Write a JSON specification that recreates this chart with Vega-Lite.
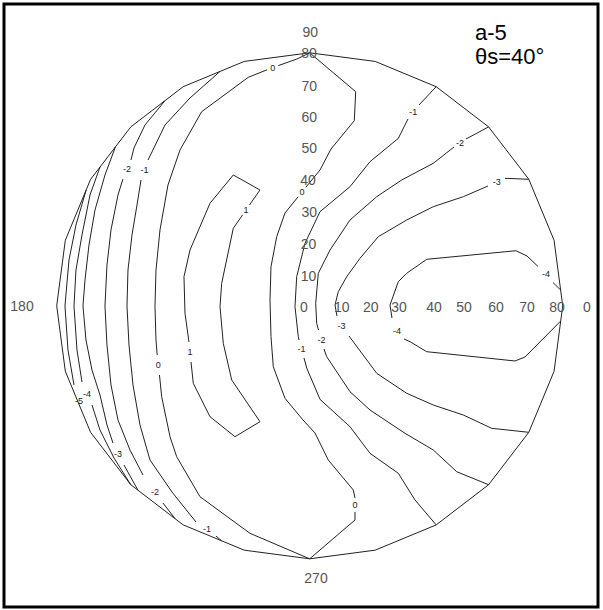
{
"$schema":"https://vega.github.io/schema/vega-lite/v6.json",
"width":594,"height":603,
"autosize":{"type":"none"},
"padding":{"left":4,"top":4,"right":5,"bottom":3},
"background":"white",
"config":{"view":{"stroke":"black","strokeWidth":3}},
"datasets":{
"boundary":[
{"i":0,"u":80,"v":0},{"i":1,"u":77.27,"v":20.71},{"i":2,"u":69.28,"v":40},{"i":3,"u":56.57,"v":56.57},{"i":4,"u":40,"v":69.28},{"i":5,"u":20.71,"v":77.27},{"i":6,"u":0,"v":80},{"i":7,"u":-20.71,"v":77.27},{"i":8,"u":-40,"v":69.28},{"i":9,"u":-56.57,"v":56.57},{"i":10,"u":-69.28,"v":40},{"i":11,"u":-77.27,"v":20.71},{"i":12,"u":-80,"v":0},{"i":13,"u":-77.27,"v":-20.71},{"i":14,"u":-69.28,"v":-40},{"i":15,"u":-56.57,"v":-56.57},{"i":16,"u":-40,"v":-69.28},{"i":17,"u":-20.71,"v":-77.27},{"i":18,"u":0,"v":-80},{"i":19,"u":20.71,"v":-77.27},{"i":20,"u":40,"v":-69.28},{"i":21,"u":56.57,"v":-56.57},{"i":22,"u":69.28,"v":-40},{"i":23,"u":77.27,"v":-20.71},{"i":24,"u":80,"v":0}],
"contours":[
{"s":"0R_a","i":0,"u":0,"v":80},{"s":"0R_a","i":1,"u":14.55,"v":67.7},{"s":"0R_a","i":2,"u":14.1,"v":58.53},{"s":"0R_a","i":3,"u":6.74,"v":49.58},{"s":"0R_a","i":4,"u":3.26,"v":42.94},{"s":"0R_a","i":5,"u":-1.23,"v":37.47},
{"s":"0R_b","i":0,"u":-3.64,"v":34.5},{"s":"0R_b","i":1,"u":-7.81,"v":29.34},{"s":"0R_b","i":2,"u":-10.43,"v":21.85},{"s":"0R_b","i":3,"u":-12.24,"v":12.36},{"s":"0R_b","i":4,"u":-12.55,"v":1.83},{"s":"0R_b","i":5,"u":-12.24,"v":-9.77},{"s":"0R_b","i":6,"u":-11.51,"v":-19.26},{"s":"0R_b","i":7,"u":-7.81,"v":-29.25},{"s":"0R_b","i":8,"u":-2.12,"v":-36.11},{"s":"0R_b","i":9,"u":1.68,"v":-40.22},{"s":"0R_b","i":10,"u":5.88,"v":-48.76},{"s":"0R_b","i":11,"u":13.79,"v":-58.25},{"s":"0R_b","i":12,"u":14.32,"v":-60.78},
{"s":"0R_c","i":0,"u":14.32,"v":-65.2},{"s":"0R_c","i":1,"u":14.32,"v":-67.73},{"s":"0R_c","i":2,"u":0,"v":-80},
{"s":"0L_a","i":0,"u":0,"v":80},{"s":"0L_a","i":1,"u":-4.02,"v":78.04},{"s":"0L_a","i":2,"u":-9.93,"v":75.95},
{"s":"0L_b","i":0,"u":-13.47,"v":74.63},{"s":"0L_b","i":1,"u":-19.42,"v":72.25},{"s":"0L_b","i":2,"u":-34.15,"v":61.38},{"s":"0L_b","i":3,"u":-41.01,"v":49.27},{"s":"0L_b","i":4,"u":-44.81,"v":38.2},{"s":"0L_b","i":5,"u":-47.34,"v":23.97},{"s":"0L_b","i":6,"u":-48.6,"v":11.32},{"s":"0L_b","i":7,"u":-48.92,"v":-0.06},{"s":"0L_b","i":8,"u":-48.6,"v":-10.81},{"s":"0L_b","i":9,"u":-48.22,"v":-15.56},
{"s":"0L_c","i":0,"u":-47.5,"v":-21.88},{"s":"0L_c","i":1,"u":-46.8,"v":-28.74},{"s":"0L_c","i":2,"u":-44.17,"v":-41.39},{"s":"0L_c","i":3,"u":-42.06,"v":-47.72},{"s":"0L_c","i":4,"u":-34.69,"v":-60.36},{"s":"0L_c","i":5,"u":-18.88,"v":-71.94},{"s":"0L_c","i":6,"u":0,"v":-80},
{"s":"m1R_a","i":0,"u":40,"v":69.28},{"s":"m1R_a","i":1,"u":34.56,"v":63.49},
{"s":"m1R_b","i":0,"u":31.08,"v":59.07},{"s":"m1R_b","i":1,"u":28.02,"v":52.96},{"s":"m1R_b","i":2,"u":19.07,"v":45.57},{"s":"m1R_b","i":3,"u":12.74,"v":37.66},{"s":"m1R_b","i":4,"u":3.26,"v":29.76},{"s":"m1R_b","i":5,"u":-1.49,"v":19.76},{"s":"m1R_b","i":6,"u":-4.11,"v":9.2},{"s":"m1R_b","i":7,"u":-4.65,"v":-0.28},{"s":"m1R_b","i":8,"u":-3.6,"v":-9.77},{"s":"m1R_b","i":9,"u":-3.38,"v":-10.81},
{"s":"m1R_c","i":0,"u":-1.8,"v":-16.51},{"s":"m1R_c","i":1,"u":-0.95,"v":-19.67},{"s":"m1R_c","i":2,"u":3.26,"v":-29.57},{"s":"m1R_c","i":3,"u":12.74,"v":-38.23},{"s":"m1R_c","i":4,"u":19.07,"v":-46.64},{"s":"m1R_c","i":5,"u":28.02,"v":-52.96},{"s":"m1R_c","i":6,"u":33.3,"v":-61.41},{"s":"m1R_c","i":7,"u":40,"v":-69.28},
{"s":"m2R_a","i":0,"u":56.57,"v":56.57},{"s":"m2R_a","i":1,"u":49.42,"v":52.74},
{"s":"m2R_b","i":0,"u":45.63,"v":50.21},{"s":"m2R_b","i":1,"u":39.08,"v":45.06},{"s":"m2R_b","i":2,"u":29.09,"v":39.78},{"s":"m2R_b","i":3,"u":21.19,"v":34.5},{"s":"m2R_b","i":4,"u":12.74,"v":27.13},{"s":"m2R_b","i":5,"u":6.42,"v":17.64},{"s":"m2R_b","i":6,"u":2.72,"v":10.28},{"s":"m2R_b","i":7,"u":1.9,"v":0.79},{"s":"m2R_b","i":8,"u":2.21,"v":-5.53},{"s":"m2R_b","i":9,"u":2.78,"v":-7.65},
{"s":"m2R_c","i":0,"u":4.52,"v":-13.66},{"s":"m2R_c","i":1,"u":5.38,"v":-16.1},{"s":"m2R_c","i":2,"u":12.74,"v":-27.16},{"s":"m2R_c","i":3,"u":19.07,"v":-32.95},{"s":"m2R_c","i":4,"u":30.14,"v":-40.32},{"s":"m2R_c","i":5,"u":39.08,"v":-45.6},{"s":"m2R_c","i":6,"u":46.48,"v":-52.46},{"s":"m2R_c","i":7,"u":56.57,"v":-56.57},
{"s":"m3R_a","i":0,"u":69.28,"v":40},{"s":"m3R_a","i":1,"u":61.76,"v":40.32},
{"s":"m3R_b","i":0,"u":56.38,"v":37.88},{"s":"m3R_b","i":1,"u":48.57,"v":34.5},{"s":"m3R_b","i":2,"u":39.08,"v":31.34},{"s":"m3R_b","i":3,"u":30.67,"v":27.13},{"s":"m3R_b","i":4,"u":21.69,"v":21.85},{"s":"m3R_b","i":5,"u":15.91,"v":15.02},{"s":"m3R_b","i":6,"u":11.7,"v":9.2},{"s":"m3R_b","i":7,"u":9.04,"v":4.46},{"s":"m3R_b","i":8,"u":8.0,"v":0.25},{"s":"m3R_b","i":9,"u":8.63,"v":-3.23},
{"s":"m3R_c","i":0,"u":12.43,"v":-9.55},{"s":"m3R_c","i":1,"u":21.19,"v":-21.34},{"s":"m3R_c","i":2,"u":30.67,"v":-27.67},{"s":"m3R_c","i":3,"u":39.08,"v":-31.37},{"s":"m3R_c","i":4,"u":48.57,"v":-34.53},{"s":"m3R_c","i":5,"u":57.55,"v":-38.74},{"s":"m3R_c","i":6,"u":69.28,"v":-40},
{"s":"m4R_a","i":0,"u":79.34,"v":5.0},{"s":"m4R_a","i":1,"u":76.93,"v":7.37},
{"s":"m4R_b","i":0,"u":72.19,"v":12.43},{"s":"m4R_b","i":1,"u":68.71,"v":15.75},{"s":"m4R_b","i":2,"u":65.23,"v":17.42},{"s":"m4R_b","i":3,"u":37.0,"v":14.7},{"s":"m4R_b","i":4,"u":30.67,"v":10.28},{"s":"m4R_b","i":5,"u":28.02,"v":7.62},{"s":"m4R_b","i":6,"u":25.39,"v":0.25},{"s":"m4R_b","i":7,"u":26.02,"v":-3.86},
{"s":"m4R_c","i":0,"u":29.82,"v":-10.5},{"s":"m4R_c","i":1,"u":31.72,"v":-11.35},{"s":"m4R_c","i":2,"u":37.0,"v":-14.51},{"s":"m4R_c","i":3,"u":64.92,"v":-17.45},{"s":"m4R_c","i":4,"u":68.08,"v":-16.19},{"s":"m4R_c","i":5,"u":79.37,"v":-4.81},
{"s":"b1_a","i":0,"u":-21.22,"v":28.74},{"s":"b1_a","i":1,"u":-24.16,"v":24.51},{"s":"b1_a","i":2,"u":-27.83,"v":7.11},{"s":"b1_a","i":3,"u":-28.36,"v":-0.28},{"s":"b1_a","i":4,"u":-27.32,"v":-11.86},{"s":"b1_a","i":5,"u":-24.66,"v":-23.46},{"s":"b1_a","i":6,"u":-15.72,"v":-36.65},{"s":"b1_a","i":7,"u":-23.62,"v":-41.39},{"s":"b1_a","i":8,"u":-31.53,"v":-35.07},{"s":"b1_a","i":9,"u":-36.81,"v":-24.51},{"s":"b1_a","i":10,"u":-37.53,"v":-17.77},
{"s":"b1_b","i":0,"u":-38.17,"v":-11.45},{"s":"b1_b","i":1,"u":-39.43,"v":-2.37},{"s":"b1_b","i":2,"u":-39.75,"v":9.2},{"s":"b1_b","i":3,"u":-37.85,"v":17.64},{"s":"b1_b","i":4,"u":-31.53,"v":32.41},{"s":"b1_b","i":5,"u":-24.16,"v":41.36},{"s":"b1_b","i":6,"u":-15.72,"v":36.62},{"s":"b1_b","i":7,"u":-19.07,"v":31.84},
{"s":"m1L_a","i":0,"u":-28.36,"v":74.1},{"s":"m1L_a","i":1,"u":-37.85,"v":65.71},{"s":"m1L_a","i":2,"u":-45.76,"v":57.17},{"s":"m1L_a","i":3,"u":-49.87,"v":48.63},{"s":"m1L_a","i":4,"u":-51.13,"v":46.1},
{"s":"m1L_b","i":0,"u":-53.34,"v":39.78},{"s":"m1L_b","i":1,"u":-54.61,"v":31.87},{"s":"m1L_b","i":2,"u":-56.19,"v":22.39},{"s":"m1L_b","i":3,"u":-57.46,"v":11.32},{"s":"m1L_b","i":4,"u":-57.77,"v":-0.06},{"s":"m1L_b","i":5,"u":-57.14,"v":-12.4},{"s":"m1L_b","i":6,"u":-55.87,"v":-25.04},{"s":"m1L_b","i":7,"u":-53.66,"v":-37.69},{"s":"m1L_b","i":8,"u":-50.5,"v":-48.76},{"s":"m1L_b","i":9,"u":-43.54,"v":-58.88},{"s":"m1L_b","i":10,"u":-35.95,"v":-68.37},
{"s":"m1L_c","i":0,"u":-29.63,"v":-72.79},{"s":"m1L_c","i":1,"u":-27.83,"v":-74.32},
{"s":"m2L_a","i":0,"u":-45.76,"v":64.86},{"s":"m2L_a","i":1,"u":-52.08,"v":57.17},{"s":"m2L_a","i":2,"u":-55.56,"v":49.9},{"s":"m2L_a","i":3,"u":-56.51,"v":46.1},
{"s":"m2L_b","i":0,"u":-59.04,"v":40.1},{"s":"m2L_b","i":1,"u":-60.62,"v":35.04},{"s":"m2L_b","i":2,"u":-62.83,"v":23.97},{"s":"m2L_b","i":3,"u":-64.1,"v":12.9},{"s":"m2L_b","i":4,"u":-64.73,"v":-0.06},{"s":"m2L_b","i":5,"u":-64.1,"v":-12.4},{"s":"m2L_b","i":6,"u":-62.83,"v":-25.04},{"s":"m2L_b","i":7,"u":-60.62,"v":-36.11},{"s":"m2L_b","i":8,"u":-56.82,"v":-45.6},{"s":"m2L_b","i":9,"u":-52.71,"v":-53.5},
{"s":"m2L_c","i":0,"u":-46.39,"v":-62.36},{"s":"m2L_c","i":1,"u":-42.59,"v":-67.29},
{"s":"m3L_a","i":0,"u":-61.44,"v":50.22},{"s":"m3L_a","i":1,"u":-64.73,"v":41.36},{"s":"m3L_a","i":2,"u":-67.89,"v":30.29},{"s":"m3L_a","i":3,"u":-69.79,"v":19.23},{"s":"m3L_a","i":4,"u":-71.05,"v":8.16},{"s":"m3L_a","i":5,"u":-71.69,"v":-0.06},{"s":"m3L_a","i":6,"u":-70.74,"v":-10.81},{"s":"m3L_a","i":7,"u":-68.84,"v":-20.3},{"s":"m3L_a","i":8,"u":-66.31,"v":-28.21},{"s":"m3L_a","i":9,"u":-64.1,"v":-37.69},{"s":"m3L_a","i":10,"u":-62.2,"v":-43.38},
{"s":"m3L_b","i":0,"u":-58.72,"v":-50.34},{"s":"m3L_b","i":1,"u":-54.29,"v":-58.32},
{"s":"m4L_a","i":0,"u":-66.31,"v":43.87},{"s":"m4L_a","i":1,"u":-69.47,"v":35.04},{"s":"m4L_a","i":2,"u":-72.0,"v":22.39},{"s":"m4L_a","i":3,"u":-73.9,"v":11.32},{"s":"m4L_a","i":4,"u":-74.53,"v":-0.06},{"s":"m4L_a","i":5,"u":-73.58,"v":-13.98},{"s":"m4L_a","i":6,"u":-72.0,"v":-24.1},
{"s":"m4L_b","i":0,"u":-68.84,"v":-31.37},{"s":"m4L_b","i":1,"u":-66.31,"v":-39.27},{"s":"m4L_b","i":2,"u":-61.88,"v":-48.12},{"s":"m4L_b","i":3,"u":-56.57,"v":-56.57},
{"s":"m5L_a","i":0,"u":-70.68,"v":36.62},{"s":"m5L_a","i":1,"u":-73.9,"v":25.55},{"s":"m5L_a","i":2,"u":-76.11,"v":14.48},{"s":"m5L_a","i":3,"u":-77.38,"v":-0.06},{"s":"m5L_a","i":4,"u":-76.43,"v":-13.98},{"s":"m5L_a","i":5,"u":-74.53,"v":-25.04}
],
"clabels":[
{"t":"0","u":-2.43,"v":35.98},{"t":"0","u":14.32,"v":-62.99},{"t":"0","u":-11.7,"v":75.29},{"t":"0","u":-47.87,"v":-18.72},
{"t":"-1","u":32.76,"v":61.38},{"t":"-1","u":-2.59,"v":-13.66},{"t":"-1","u":-52.24,"v":42.94},{"t":"-1","u":-32.47,"v":-70.58},
{"t":"-2","u":47.53,"v":51.48},{"t":"-2","u":3.73,"v":-10.66},{"t":"-2","u":-57.77,"v":43.26},{"t":"-2","u":-48.92,"v":-58.88},
{"t":"-3","u":59.13,"v":39.15},{"t":"-3","u":10.06,"v":-6.23},{"t":"-3","u":-60.62,"v":-46.86},
{"t":"-4","u":74.72,"v":9.9},{"t":"-4","u":27.61,"v":-7.97},{"t":"-4","u":-70.42,"v":-27.89},
{"t":"-5","u":-72.95,"v":-30.1},
{"t":"1","u":-20.14,"v":30.29},{"t":"1","u":-37.85,"v":-14.61}
],
"ticks":[
{"t":"180","u":-90.97,"v":-0.5},{"t":"0","u":87.68,"v":-0.7},
{"t":"0","u":-1.8,"v":-0.79},{"t":"10","u":10.12,"v":-0.79},{"t":"20","u":19.29,"v":-0.79},{"t":"30","u":28.24,"v":-0.79},{"t":"40","u":39.31,"v":-0.79},{"t":"50","u":48.79,"v":-0.79},{"t":"60","u":58.91,"v":-0.79},{"t":"70","u":68.71,"v":-0.79},{"t":"80","u":78.2,"v":-0.79},
{"t":"90","u":0.2,"v":86.17},{"t":"80","u":-0.2,"v":79.53},{"t":"70","u":-0.13,"v":69.28},{"t":"60","u":-0.13,"v":59.29},{"t":"50","u":-0.13,"v":49.49},{"t":"40","u":-0.5,"v":39.56},{"t":"30","u":-0.13,"v":29.25},{"t":"20","u":-0.4,"v":19.23},{"t":"10","u":-0.4,"v":9.2},
{"t":"270","u":1.99,"v":-86.39}
],
"titles":[{"t":"a-5","u":52.27,"v":84.05},{"t":"θs=40°","u":52.27,"v":76.46}]
},
"layer":[
{"data":{"name":"boundary"},"mark":{"type":"line","color":"#222","strokeWidth":1},
 "encoding":{"x":{"field":"u","type":"quantitative","scale":{"domain":[-96.66,91.16],"nice":false,"zero":false},"axis":null},
 "y":{"field":"v","type":"quantitative","scale":{"domain":[-95.24,95.43],"nice":false,"zero":false},"axis":null},
 "order":{"field":"i","type":"quantitative"}}},
{"data":{"name":"contours"},"mark":{"type":"line","color":"#222","strokeWidth":1},
 "encoding":{"x":{"field":"u","type":"quantitative","scale":{"domain":[-96.66,91.16],"nice":false,"zero":false},"axis":null},
 "y":{"field":"v","type":"quantitative","scale":{"domain":[-95.24,95.43],"nice":false,"zero":false},"axis":null},
 "detail":{"field":"s","type":"nominal"},
 "order":{"field":"i","type":"quantitative"}}},
{"data":{"name":"clabels"},"mark":{"type":"text","fontSize":9,"font":"Liberation Sans","color":"#222","align":"center","baseline":"middle"},
 "encoding":{"x":{"field":"u","type":"quantitative"},"y":{"field":"v","type":"quantitative"},"text":{"field":"t"}}},
{"data":{"name":"ticks"},"mark":{"type":"text","fontSize":14,"font":"Liberation Sans","color":"#555","align":"center","baseline":"middle"},
 "encoding":{"x":{"field":"u","type":"quantitative"},"y":{"field":"v","type":"quantitative"},"text":{"field":"t"}}},
{"data":{"name":"titles"},"mark":{"type":"text","fontSize":22,"font":"Liberation Sans","color":"black","align":"left","baseline":"alphabetic"},
 "encoding":{"x":{"field":"u","type":"quantitative"},"y":{"field":"v","type":"quantitative"},"text":{"field":"t"}}}
]
}
